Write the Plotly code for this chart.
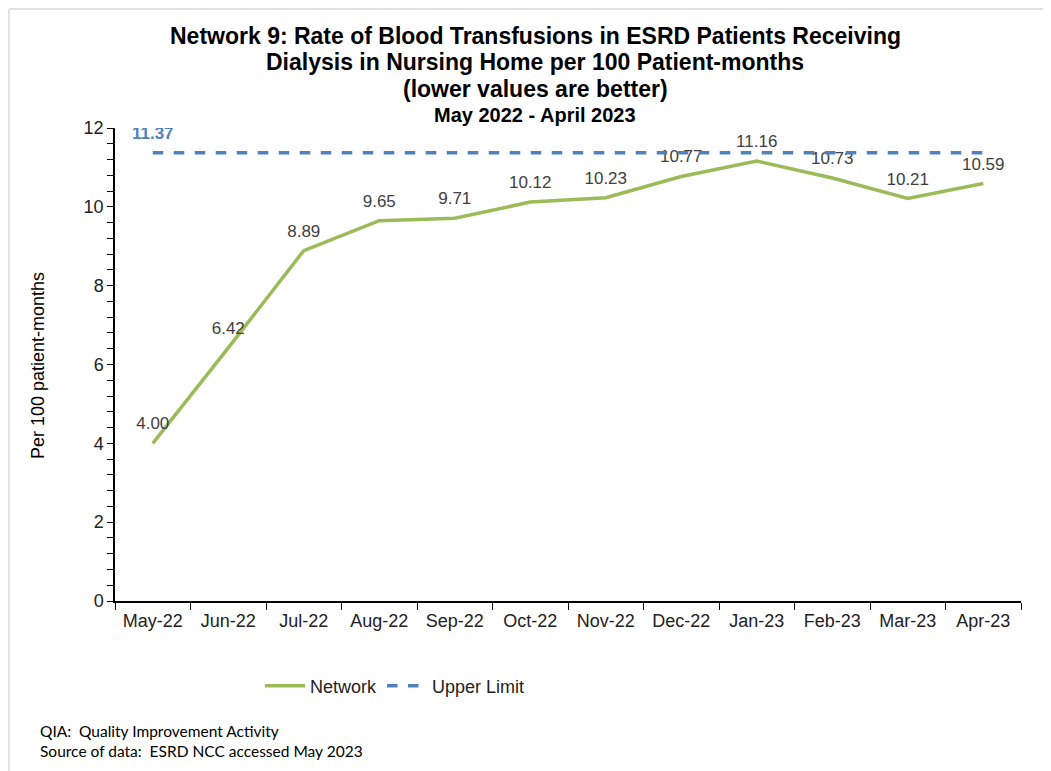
import plotly.graph_objects as go

months = ["May-22", "Jun-22", "Jul-22", "Aug-22", "Sep-22", "Oct-22",
          "Nov-22", "Dec-22", "Jan-23", "Feb-23", "Mar-23", "Apr-23"]
network = [4.00, 6.42, 8.89, 9.65, 9.71, 10.12, 10.23, 10.77, 11.16, 10.73, 10.21, 10.59]
upper_limit_value = 11.37
upper_limit = [upper_limit_value] * len(months)

title_lines = [
    "Network 9: Rate of Blood Transfusions in ESRD Patients Receiving",
    "Dialysis in Nursing Home per 100 Patient-months",
    "(lower values are better)",
]
subtitle = "May 2022 - April 2023"
footnotes = ["QIA:  Quality Improvement Activity",
             "Source of data:  ESRD NCC accessed May 2023"]
y_title = "Per 100 patient-months"

W, H = 1051, 771
OFF = 8  # page offset of the figure
# target plot area in page pixels
PX0, PX1, PY0, PY1 = 115, 1021, 128, 601
L, T = PX0 - OFF, PY0 - OFF
R = W - (PX1 - OFF)
B = H - (PY1 - OFF)
pw, ph = W - L - R, H - T - B

def px_x(x):
    return (x - OFF - L) / pw

def px_y(y):
    return (H - B - (y - OFF)) / ph

fig = go.Figure()
fig.add_trace(go.Scatter(
    x=months, y=network, mode="lines+markers+text", name="Network",
    line=dict(color="#9BBB59", width=3.5),
    marker=dict(size=14, color="rgba(0,0,0,0)"),
    text=[f"{v:.2f}" for v in network], textposition="top center",
    textfont=dict(family="Arial", size=17, color="#404040"),
))
fig.add_trace(go.Scatter(
    x=months, y=upper_limit, mode="lines+markers+text", name="Upper Limit",
    line=dict(color="#4F81BD", width=3.5, dash="dash"),
    marker=dict(size=14, color="rgba(0,0,0,0)"),
    text=[f"<b>{upper_limit_value:.2f}</b>"] + [""] * (len(months) - 1),
    textposition="top center",
    textfont=dict(family="Arial", size=17, color="#4F81BD"),
))

annotations = []
title_y = [36, 62, 89]
for line, y in zip(title_lines, title_y):
    annotations.append(dict(text=f"<b>{line}</b>", x=px_x(535), y=px_y(y),
                            xref="paper", yref="paper", showarrow=False,
                            xanchor="center", yanchor="middle",
                            font=dict(family="Arial", size=23, color="black")))
annotations.append(dict(text=f"<b>{subtitle}</b>", x=px_x(535), y=px_y(115),
                        xref="paper", yref="paper", showarrow=False,
                        xanchor="center", yanchor="middle",
                        font=dict(family="Arial", size=20, color="black")))
for line, y in zip(footnotes, [731, 751]):
    annotations.append(dict(text=line, x=px_x(38), y=px_y(y),
                            xref="paper", yref="paper", showarrow=False,
                            xanchor="left", yanchor="middle",
                            font=dict(family="Lato", size=15.5, color="black")))
annotations.append(dict(text=y_title, x=px_x(38), y=px_y(366),
                        xref="paper", yref="paper", showarrow=False,
                        xanchor="center", yanchor="middle", textangle=-90,
                        font=dict(family="Arial", size=18, color="black")))

shapes = [dict(type="line", xref="paper", yref="paper",
               x0=px_x(OFF + 1), y0=px_y(H + 20), x1=px_x(OFF + 1), y1=px_y(OFF + 1),
               line=dict(color="#D9D9D9", width=1.5)),
          dict(type="line", xref="paper", yref="paper",
               x0=px_x(OFF + 1), y0=px_y(OFF + 1), x1=px_x(W + 20), y1=px_y(OFF + 1),
               line=dict(color="#D9D9D9", width=1.5))]

fig.update_layout(
    width=W, height=H,
    margin=dict(l=L, r=R, t=T, b=B, autoexpand=False),
    paper_bgcolor="white", plot_bgcolor="white",
    showlegend=True,
    legend=dict(orientation="h", x=px_x(395), y=px_y(686),
                xanchor="center", yanchor="middle",
                font=dict(family="Arial", size=18, color="#222222"),
                itemwidth=40),
    annotations=annotations,
    shapes=shapes,
    font=dict(family="Arial"),
)
fig.update_xaxes(
    type="category", range=[-0.5, len(months) - 0.5],
    showline=True, linecolor="black", linewidth=1.5,
    ticks="outside", tickson="boundaries", ticklen=7, tickcolor="black",
    tickfont=dict(family="Arial", size=18, color="#222222"),
    ticklabelstandoff=3,
    showgrid=False, zeroline=False,
)
fig.update_yaxes(
    range=[0, 12], dtick=2, tick0=0,
    showline=True, linecolor="black", linewidth=1.5,
    ticks="outside", ticklen=6, tickcolor="black",
    minor=dict(dtick=0.4, ticks="outside", ticklen=6, tickcolor="black", showgrid=False),
    tickfont=dict(family="Arial", size=18, color="#222222"),
    showgrid=False, zeroline=False,
)

fig.write_html("out.html")
